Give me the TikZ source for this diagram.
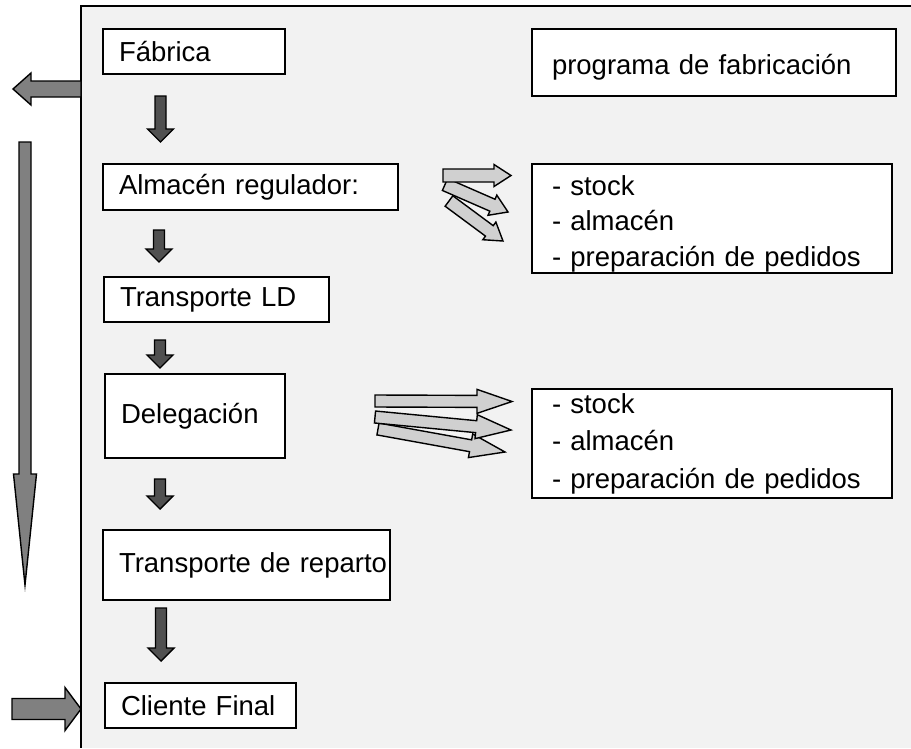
\documentclass[tikz,border=0pt]{standalone}
\usepackage{fontspec}
\setmainfont{Liberation Sans}
\usetikzlibrary{calc}
\definecolor{panel}{RGB}{242,242,242}
\definecolor{darkarr}{RGB}{80,80,80}
\definecolor{lightarr}{RGB}{208,208,208}
\definecolor{midarr}{RGB}{128,128,128}
% block arrow: #1 style, #2 tail, #3 tip, #4 shaft half width, #5 head half width, #6 head length
\newcommand{\barr}[6]{%
  \coordinate (bh) at ($(#3)!#6!(#2)$);
  \draw[#1] ($(#2)!#4!90:(#3)$) -- ($(bh)!#4!90:(#3)$) -- ($(bh)!#5!90:(#3)$) -- (#3)
    -- ($(bh)!#5!-90:(#3)$) -- ($(bh)!#4!-90:(#3)$) -- ($(#2)!#4!-90:(#3)$) -- cycle;}
\begin{document}
\begin{tikzpicture}[x=1pt,y=-1pt,
  every node/.style={font=\fontsize{27.5}{35.5}\selectfont},
  box/.style={draw, line width=1.6pt, fill=white, anchor=north west, align=left,
    inner xsep=16pt, inner ysep=2pt, outer sep=0pt},
  darrow/.style={draw, line width=1.4pt, fill=darkarr, line join=miter},
  larrow/.style={draw, line width=1.4pt, fill=lightarr, line join=miter},
  marrow/.style={draw, line width=1.4pt, fill=midarr, line join=miter}]
\useasboundingbox (0,0) rectangle (911,748);
\fill[panel] (81,6) rectangle (911,748);
\draw[line width=1.6pt] (911,6) -- (81,6) -- (81,748);

\node[box, text width=150pt, minimum height=45pt] (fab) at (103,29) {Fábrica};
\node[box, minimum height=67pt, inner xsep=20pt, text width=324pt] (prog) at (532,29) {\rule{0pt}{30pt}programa de fabricación};
\node[box, text width=263pt, minimum height=46pt] (alm) at (103,164) {Almacén regulador:};
\node[box, text width=320pt, minimum height=109pt, inner xsep=20pt, inner ysep=0pt] (stk1) at (532,164) {\rule{0pt}{30pt}- stock\\- almacén\\- preparación de pedidos};
\node[box, text width=193pt, minimum height=45pt] (tld) at (104,277) {Transporte LD};
\node[box, text width=148pt, minimum height=84pt] (del) at (105,374) {Delegación};
\node[box, text width=320pt, minimum height=109pt, inner xsep=20pt, inner ysep=0pt, font=\fontsize{27.5}{37.5}\selectfont] (stk2) at (532,389) {- stock\\- almacén\\- preparación de pedidos};
\node[box, text width=255pt, minimum height=70pt] (trep) at (103,530) {\mbox{Transporte de reparto}};
\node[box, text width=159pt, minimum height=45pt] (cli) at (105,683) {Cliente Final};

% dark arrows
\coordinate (d1a) at (160.5,96);  \coordinate (d1b) at (160.5,142);
\coordinate (d2a) at (159,230);   \coordinate (d2b) at (159,262);
\coordinate (d3a) at (160,340);   \coordinate (d3b) at (160,368);
\coordinate (d4a) at (160,479);   \coordinate (d4b) at (160,509);
\coordinate (d5a) at (161,608);   \coordinate (d5b) at (161,661);
\barr{darrow}{d1a}{d1b}{5.5pt}{13pt}{13pt}
\barr{darrow}{d2a}{d2b}{5.5pt}{13pt}{13pt}
\barr{darrow}{d3a}{d3b}{5.5pt}{13pt}{13pt}
\barr{darrow}{d4a}{d4b}{5.5pt}{13pt}{13pt}
\barr{darrow}{d5a}{d5b}{5.5pt}{13pt}{13pt}

% light arrows at Almacén
\coordinate (a1a) at (443,175.5); \coordinate (a1b) at (511,175.5);
\coordinate (a2a) at (445,184.5); \coordinate (a2b) at (508,212);
\coordinate (a3a) at (449,201);   \coordinate (a3b) at (503,241);
\barr{larrow}{a3a}{a3b}{6.5pt}{11pt}{17pt}
\barr{larrow}{a2a}{a2b}{6.5pt}{11pt}{17pt}
\barr{larrow}{a1a}{a1b}{6.5pt}{11pt}{17pt}

% light arrows at Delegación
\coordinate (e1a) at (375,401);   \coordinate (e1b) at (512,401.5);
\coordinate (e2a) at (375,417);   \coordinate (e2b) at (511,430);
\coordinate (e3a) at (378,429);   \coordinate (e3b) at (505,452);
\barr{larrow}{e3a}{e3b}{6pt}{12pt}{35pt}
\barr{larrow}{e2a}{e2b}{6pt}{12pt}{35pt}
\barr{larrow}{e1a}{e1b}{6pt}{12pt}{35pt}

% medium arrows on the left
\coordinate (m1a) at (81,89);   \coordinate (m1b) at (13,89);
\coordinate (m2a) at (25,142);  \coordinate (m2b) at (25,585);
\coordinate (m3a) at (12,709);  \coordinate (m3b) at (81,709);
\barr{marrow}{m1a}{m1b}{8pt}{16pt}{18pt}
\barr{marrow}{m2a}{m2b}{6pt}{11.5pt}{111pt}
\barr{marrow}{m3a}{m3b}{10.5pt}{21.5pt}{16pt}
\end{tikzpicture}
\end{document}
